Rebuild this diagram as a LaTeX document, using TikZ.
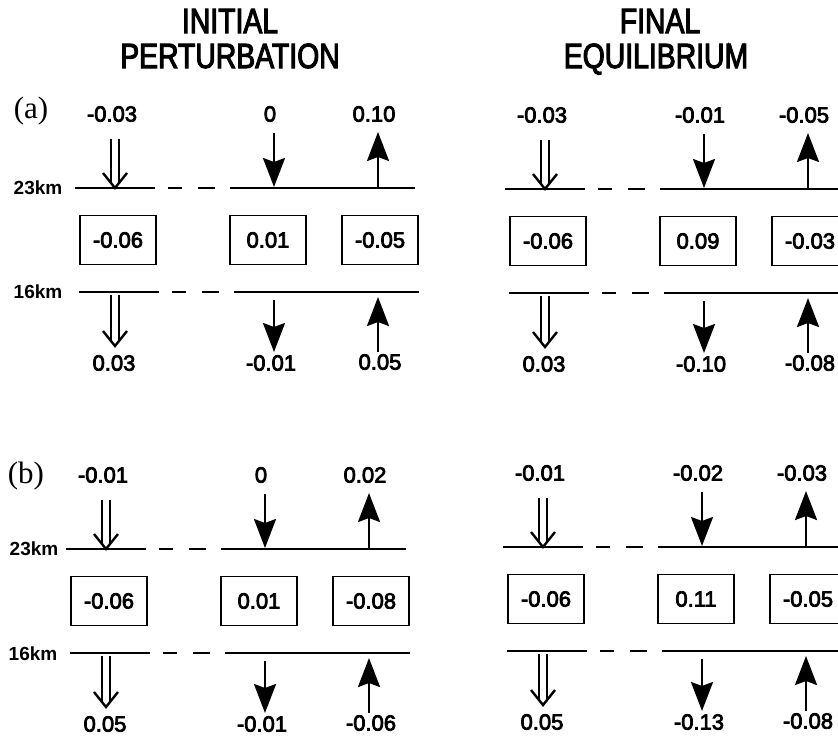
\documentclass[tikz,border=0pt]{standalone}
\usepackage{fontspec}
\setmainfont{Liberation Sans}
\newfontfamily\valfont[FakeBold=3.5]{Liberation Sans}
\newfontfamily\hdrfont[FakeStretch=0.81, FakeBold=3]{Liberation Sans}
\newfontfamily\tagfont{Liberation Serif}
\usetikzlibrary{arrows.meta, calc}
\tikzset{
  val/.style={font=\valfont\fontsize{22}{26}\selectfont, inner sep=1pt},
  bud/.style={rectangle, draw, line width=1.6pt, minimum width=76pt,
              minimum height=49pt, font=\valfont\fontsize{22}{26}\selectfont, inner sep=2pt},
  alt/.style={font=\fontsize{19}{21}\selectfont\bfseries, inner sep=0pt},
  hdr/.style={font=\hdrfont\fontsize{35}{35}\selectfont, inner sep=0pt, anchor=base},
  ptag/.style={font=\tagfont\fontsize{31}{32}\selectfont, inner sep=0pt},
  lev/.style={line width=1.8pt},
  dyn/.style={line width=2.2pt, double, double distance=6pt, shorten >=5pt},
  dynhead/.style={line width=2.4pt, line join=miter},
  rad/.style={line width=2.6pt, -{Stealth[length=29pt, width=22pt, inset=4pt]}},
}

\begin{document}
\begin{tikzpicture}[x=1pt, y=-1pt]
  \useasboundingbox (0,0) rectangle (838,736);
  \clip (0,0) rectangle (838,736);
  % column titles
  \node[hdr] (init1) at (230,33) {INITIAL};
  \node[hdr] (init2) at (230,68) {PERTURBATION};
  \node[hdr] (fin1) at (660,33) {FINAL};
  \node[hdr] (fin2) at (656,68) {EQUILIBRIUM};
  % panel tags and heights
  \node[ptag] (tag-a) at (31,111) {(a)};
  \node[ptag] (tag-b) at (26,476) {(b)};
  \node[alt] (a-23) at (38,188) {23km};
  \node[alt] (a-16) at (38,292) {16km};
  \node[alt] (b-23) at (34,549) {23km};
  \node[alt] (b-16) at (33,654) {16km};
  \foreach \p/\x/\y/\w/\ta/\tb/\tc/\ma/\mb/\mc/\ba/\bb/\bc in {
      al/115/188/300/-0.03/0/0.10/-0.06/0.01/-0.05/0.03/-0.01/0.05,
      ar/545/189/330/-0.03/-0.01/-0.05/-0.06/0.09/-0.03/0.03/-0.10/-0.08,
      bl/106/549/300/-0.01/0/0.02/-0.06/0.01/-0.08/0.05/-0.01/-0.06,
      br/543/547/330/-0.01/-0.02/-0.03/-0.06/0.11/-0.05/0.05/-0.13/-0.08} {
    \begin{scope}[shift={(\x,\y)}]
      % levels, broken by dashes
      \foreach \yy/\dx in {0/0, 104/4} {
        \draw[lev] (-40+\dx,\yy) -- (40+\dx,\yy);
        \draw[lev] (53+\dx,\yy) -- (67+\dx,\yy);
        \draw[lev] (83+\dx,\yy) -- (100+\dx,\yy);
        \draw[lev] (115+\dx,\yy) -- (\w+\dx,\yy);
      }
      \node[val] (\p-t1) at (-3,-74) {\ta};
      \node[val] (\p-t2) at (155,-74) {\tb};
      \node[val] (\p-t3) at (259,-74) {\tc};
      \node[bud] (\p-m1) at (3,52) {\ma};
      \node[bud] (\p-m2) at (153,52) {\mb};
      \node[bud] (\p-m3) at (265,52) {\mc};
      \node[val] (\p-b1) at (-1,175) {\ba};
      \node[val] (\p-b2) at (156,175) {\bb};
      \node[val] (\p-b3) at (265,174) {\bc};
      \coordinate (\p-d1s) at (0,-49);   \coordinate (\p-d1e) at (0,0);
      \coordinate (\p-d2s) at (159,-55); \coordinate (\p-d2e) at (159,-1);
      \coordinate (\p-d3s) at (263,0);   \coordinate (\p-d3e) at (263,-56);
      \coordinate (\p-d4s) at (0,107);   \coordinate (\p-d4e) at (0,158);
      \coordinate (\p-d5s) at (159,112); \coordinate (\p-d5e) at (159,164);
      \coordinate (\p-d6s) at (263,164); \coordinate (\p-d6e) at (263,109);
      \draw[dyn] (\p-d1s) -- (\p-d1e);
      \draw[dynhead] ($(\p-d1e)+(-12,-15)$) -- (\p-d1e) -- ($(\p-d1e)+(12,-15)$);
      \draw[rad] (\p-d2s) -- (\p-d2e);
      \draw[rad] (\p-d3s) -- (\p-d3e);
      \draw[dyn] (\p-d4s) -- (\p-d4e);
      \draw[dynhead] ($(\p-d4e)+(-12,-15)$) -- (\p-d4e) -- ($(\p-d4e)+(12,-15)$);
      \draw[rad] (\p-d5s) -- (\p-d5e);
      \draw[rad] (\p-d6s) -- (\p-d6e);
    \end{scope}
  }
\end{tikzpicture}
\end{document}
